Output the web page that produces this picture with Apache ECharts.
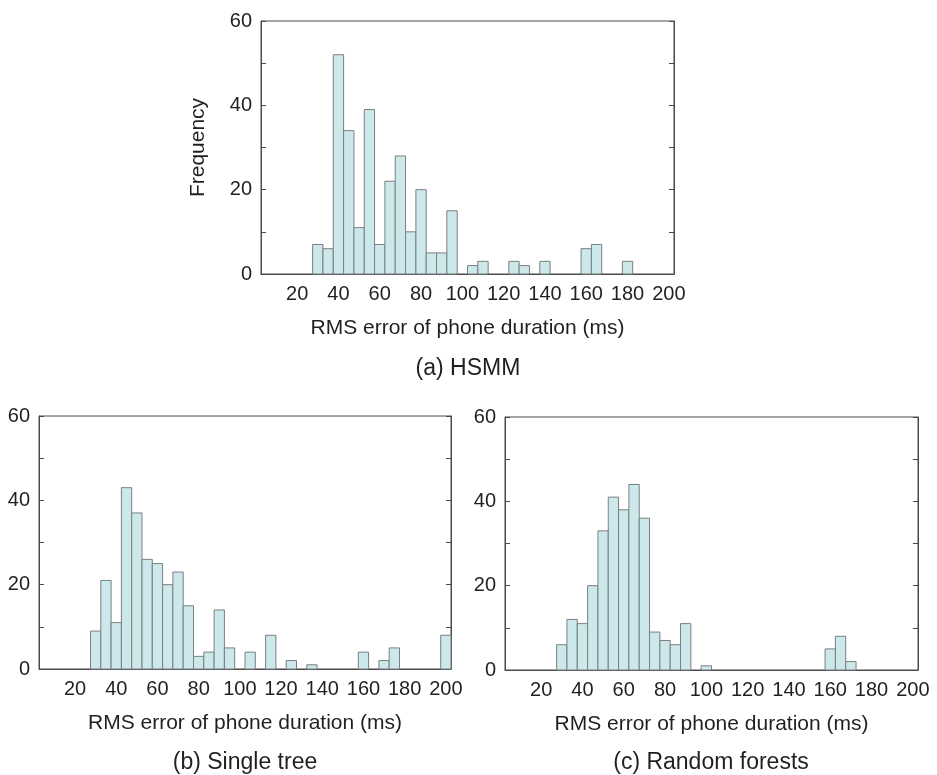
<!DOCTYPE html>
<html>
<head>
<meta charset="utf-8">
<script src="https://cdn.jsdelivr.net/npm/echarts@6/dist/echarts.min.js"></script>
<style>
html,body{margin:0;padding:0;background:#fff;}
#chart{width:937px;height:775px;}
</style>
</head>
<body>
<div id="chart"></div>
<script>
// Bin centres (ms) shared by all three histograms
const binCenters = [30, 35, 40, 45, 50, 55, 60, 65, 70, 75, 80, 85, 90, 95, 100,
  105, 110, 115, 120, 125, 130, 135, 140, 145, 150, 155, 160, 165, 170, 175,
  180, 185, 190, 195, 200];
// (a) HSMM
const countsHSMM = [7, 6, 52, 34, 11, 39, 7, 22, 28, 10, 20, 5, 5, 15, 0,
  2, 3, 0, 0, 3, 2, 0, 3, 0, 0, 0, 6, 7, 0, 0,
  3, 0, 0, 0, 0];
// (b) Single tree
const countsTree = [9, 21, 11, 43, 37, 26, 25, 20, 23, 15, 3, 4, 14, 5, 0,
  4, 0, 8, 0, 2, 0, 1, 0, 0, 0, 0, 4, 0, 2, 5,
  0, 0, 0, 0, 8];
// (c) Random forests
const countsForest = [6, 12, 11, 20, 33, 41, 38, 44, 36, 9, 7, 6, 11, 0, 1,
  0, 0, 0, 0, 0, 0, 0, 0, 0, 0, 0, 5, 8, 2, 0,
  0, 0, 0, 0, 0];
const xTickLabels = [20, 40, 60, 80, 100, 120, 140, 160, 180, 200];
const yTickLabels = [0, 20, 40, 60];
const binWidth = 5;
const xTitle = 'RMS error of phone duration (ms)';
const yTitle = 'Frequency';
const captions = ['(a) HSMM', '(b) Single tree', '(c) Random forests'];

const FONT = '"Liberation Sans", Arial, Helvetica, sans-serif';
const TXT = '#231f20';
const FRAME = '#4a4a4a';

const grids = [
  {left: 261, top: 21, width: 413, height: 253},
  {left: 39, top: 416, width: 412, height: 253},
  {left: 505, top: 417, width: 413, height: 253}
];

function renderBin(params, api) {
  const c = api.value(0), v = api.value(1);
  if (!v) return null;
  const p0 = api.coord([c - binWidth / 2, v]);
  const p1 = api.coord([c + binWidth / 2, 0]);
  return {
    type: 'rect',
    shape: {x: p0[0], y: p0[1], width: p1[0] - p0[0], height: p1[1] - p0[1]},
    style: {fill: '#cde8eb', stroke: '#7a7f80', lineWidth: 1}
  };
}

const xAxes = [], yAxes = [], series = [];
const allCounts = [countsHSMM, countsTree, countsForest];
grids.forEach((g, i) => {
  xAxes.push({
    type: 'value', gridIndex: i, min: 2.5, max: 202.5,
    name: xTitle, nameLocation: 'middle', nameGap: 44,
    nameTextStyle: {fontFamily: FONT, fontSize: 21, color: TXT},
    axisLine: {show: true, lineStyle: {color: FRAME, width: 1}},
    axisTick: {show: false},
    splitLine: {show: false},
    axisLabel: {customValues: xTickLabels, fontFamily: FONT, fontSize: 20, color: TXT, margin: 10}
  });
  yAxes.push({
    type: 'value', gridIndex: i, min: 0, max: 60, interval: 10, position: 'left',
    name: i === 0 ? yTitle : '', nameLocation: 'middle', nameGap: 52, nameRotate: 90,
    nameTextStyle: {fontFamily: FONT, fontSize: 21, color: TXT},
    axisLine: {show: true, lineStyle: {color: FRAME, width: 1}},
    axisTick: {show: true, inside: true, length: 5, lineStyle: {color: FRAME}},
    splitLine: {show: false},
    axisLabel: {customValues: yTickLabels, fontFamily: FONT, fontSize: 20, color: TXT, margin: 9}
  });
  yAxes.push({
    type: 'value', gridIndex: i, min: 0, max: 60, interval: 10, position: 'right',
    axisLine: {show: true, lineStyle: {color: FRAME, width: 1}},
    axisTick: {show: true, inside: true, length: 5, lineStyle: {color: FRAME}},
    splitLine: {show: false},
    axisLabel: {show: false}
  });
  series.push({
    type: 'custom', xAxisIndex: i, yAxisIndex: i * 2,
    renderItem: renderBin,
    data: binCenters.map((c, k) => [c, allCounts[i][k]]),
    silent: true
  });
});

const captionPos = [[468, 369], [245, 763], [711, 763]];
const graphics = captions.map((t, i) => ({
  type: 'text', x: captionPos[i][0], y: captionPos[i][1],
  style: {text: t, fontFamily: FONT, fontSize: 23, fill: TXT, align: 'center', verticalAlign: 'middle'}
}));

const chart = echarts.init(document.getElementById('chart'), null, {renderer: 'canvas'});
chart.setOption({
  animation: false,
  backgroundColor: '#ffffff',
  grid: grids.map(g => Object.assign({show: true, borderColor: FRAME, borderWidth: 1, backgroundColor: 'transparent'}, g)),
  xAxis: xAxes,
  yAxis: yAxes,
  series: series,
  graphic: graphics
});
</script>
</body>
</html>
